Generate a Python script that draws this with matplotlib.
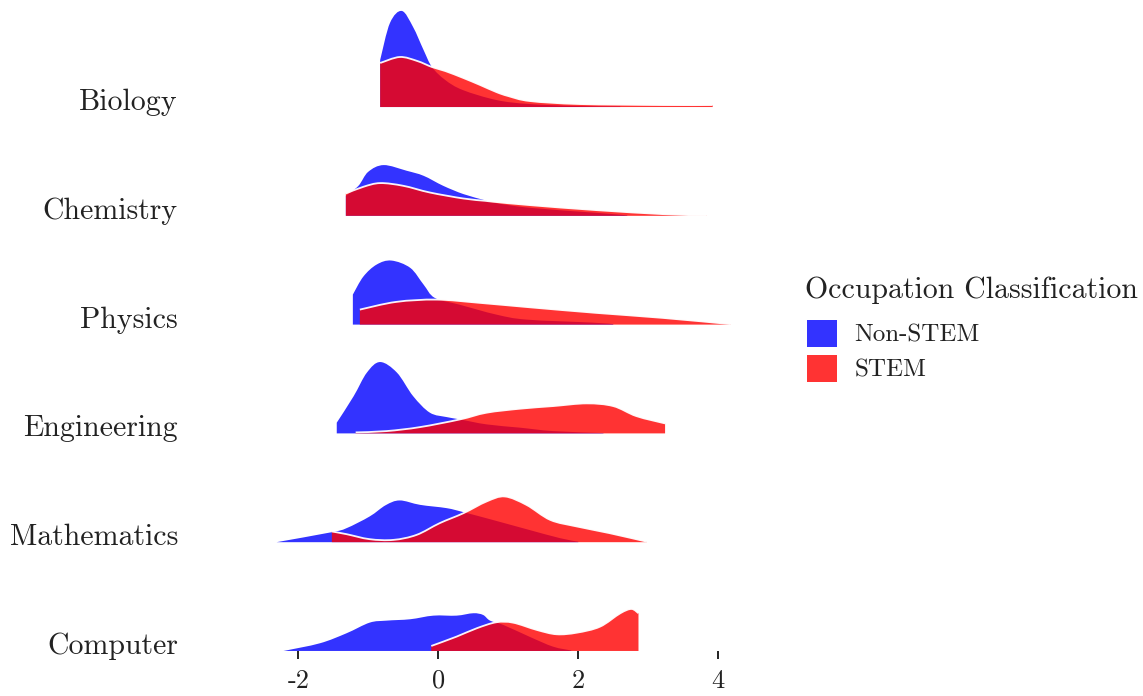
import matplotlib
matplotlib.use('Agg')
import matplotlib.pyplot as plt
from matplotlib.patches import Patch, PathPatch
from matplotlib.path import Path

plt.rcParams['font.family'] = ['cmr10', 'DejaVu Serif']
plt.rcParams['axes.unicode_minus'] = False
plt.rcParams['mathtext.fontset'] = 'cm'

# rows, bottom to top
subjects = ['Computer', 'Mathematics', 'Engineering', 'Physics', 'Chemistry', 'Biology']
group_names = ['Non-STEM', 'STEM']
legend_title = 'Occupation Classification'
x_ticks = [-2, 0, 2, 4]
x_tick_labels = ['-2', '0', '2', '4']

# density curves (x value, height)
nonstem_x = {
    'Biology': [-0.83, -0.69, -0.52, -0.36, -0.21, -0.09, 0.10, 0.35, 0.83, 1.3, 2.0, 2.6],
    'Chemistry': [-1.32, -1.14, -1.0, -0.78, -0.45, -0.21, 0.07, 0.36, 0.67, 0.8, 1.31, 2.26, 2.7],
    'Physics': [-1.22, -1.07, -0.88, -0.67, -0.40, -0.21, -0.05, 0.3, 0.83, 1.26, 2.2, 2.5],
    'Engineering': [-1.45, -1.21, -1.02, -0.83, -0.59, -0.36, -0.12, 0.12, 0.31, 0.69, 1.17, 1.64, 2.36],
    'Mathematics': [-2.31, -1.52, -1.31, -0.98, -0.75, -0.55, -0.26, 0.12, 0.36, 0.79, 1.26, 1.74, 2.0],
    'Computer': [-2.21, -1.69, -1.31, -0.98, -0.74, -0.40, -0.07, 0.26, 0.50, 0.64, 0.74, 0.93, 1.31, 1.64, 1.9],
}
nonstem_h = {
    'Biology': [0.47, 0.84, 0.96, 0.80, 0.57, 0.40, 0.27, 0.17, 0.07, 0.03, 0.01, 0.005],
    'Chemistry': [0.20, 0.30, 0.44, 0.507, 0.45, 0.40, 0.30, 0.217, 0.155, 0.13, 0.08, 0.03, 0.005],
    'Physics': [0.30, 0.48, 0.60, 0.64, 0.567, 0.40, 0.267, 0.20, 0.10, 0.05, 0.02, 0.005],
    'Engineering': [0.107, 0.37, 0.607, 0.713, 0.607, 0.373, 0.207, 0.163, 0.14, 0.09, 0.057, 0.023, 0.003],
    'Mathematics': [0.0, 0.10, 0.14, 0.257, 0.37, 0.417, 0.373, 0.34, 0.30, 0.22, 0.13, 0.04, 0.005],
    'Computer': [0.0, 0.077, 0.177, 0.283, 0.303, 0.317, 0.353, 0.353, 0.377, 0.36, 0.303, 0.26, 0.14, 0.043, 0.005],
}
stem_x = {
    'Biology': [-0.83, -0.55, -0.3, -0.09, 0.1, 0.36, 0.6, 0.83, 1.0, 1.31, 2.02, 3.2, 3.92],
    'Chemistry': [-1.32, -1.07, -0.83, -0.5, -0.12, 0.36, 0.67, 0.8, 1.31, 2.26, 3.21, 3.83],
    'Physics': [-1.12, -0.6, -0.02, 0.6, 1.31, 2.26, 3.21, 4.17],
    'Engineering': [-1.18, -0.74, -0.26, 0.31, 0.69, 1.17, 1.64, 2.12, 2.5, 2.83, 3.24],
    'Mathematics': [-1.52, -1.31, -0.98, -0.64, -0.31, 0.02, 0.36, 0.69, 0.95, 1.26, 1.6, 1.98, 2.45, 2.98],
    'Computer': [-0.10, 0.26, 0.55, 0.83, 1.07, 1.41, 1.69, 1.98, 2.31, 2.60, 2.76, 2.86],
}
stem_h = {
    'Biology': [0.44, 0.50, 0.46, 0.40, 0.36, 0.29, 0.22, 0.15, 0.11, 0.06, 0.03, 0.02, 0.02],
    'Chemistry': [0.223, 0.29, 0.327, 0.30, 0.233, 0.173, 0.15, 0.14, 0.107, 0.057, 0.017, 0.003],
    'Physics': [0.15, 0.227, 0.25, 0.217, 0.173, 0.117, 0.067, 0.005],
    'Engineering': [0.01, 0.023, 0.063, 0.14, 0.207, 0.247, 0.273, 0.30, 0.273, 0.173, 0.10],
    'Mathematics': [0.107, 0.08, 0.03, 0.023, 0.073, 0.19, 0.29, 0.407, 0.457, 0.373, 0.223, 0.157, 0.09, 0.005],
    'Computer': [0.05, 0.143, 0.227, 0.287, 0.283, 0.21, 0.167, 0.183, 0.243, 0.377, 0.42, 0.377],
}

colors = ['#0000FF', '#FF0000']
scale = 0.92  # ridge height relative to row spacing


def top_curve(xs, ys):
    # bezier pieces through the read points (catmull-rom style handles)
    verts = [(xs[0], ys[0])]
    codes = []
    n = len(xs)
    for i in range(n - 1):
        p0 = (xs[max(i - 1, 0)], ys[max(i - 1, 0)])
        p1 = (xs[i], ys[i])
        p2 = (xs[i + 1], ys[i + 1])
        p3 = (xs[min(i + 2, n - 1)], ys[min(i + 2, n - 1)])
        c1 = (p1[0] + (p2[0] - p0[0]) / 6, p1[1] + (p2[1] - p0[1]) / 6)
        c2 = (p2[0] - (p3[0] - p1[0]) / 6, p2[1] - (p3[1] - p1[1]) / 6)
        verts += [c1, c2, p2]
        codes += [Path.CURVE4] * 3
    return verts, codes


def draw_ridge(ax, row, xs, hs, color, outline):
    ys = [row + h * scale for h in hs]
    verts, codes = top_curve(xs, ys)
    fill_verts = [(xs[0], row)] + verts + [(xs[-1], row), (xs[0], row)]
    fill_codes = [Path.MOVETO, Path.LINETO] + codes + [Path.LINETO, Path.CLOSEPOLY]
    ax.add_patch(PathPatch(Path(fill_verts, fill_codes), facecolor=color, alpha=0.8,
                           edgecolor='none', linewidth=0))
    if outline:
        ax.add_patch(PathPatch(Path(verts, [Path.MOVETO] + codes), facecolor='none',
                               edgecolor='white', linewidth=1.3, alpha=0.95))


def main():
    fig = plt.figure(figsize=(11.43, 6.96), dpi=100)
    ax = fig.add_axes([0.2395, 0.0647, 0.4073, 0.930])

    for row, subject in enumerate(subjects):
        draw_ridge(ax, row, nonstem_x[subject], nonstem_h[subject], colors[0], False)
        draw_ridge(ax, row, stem_x[subject], stem_h[subject], colors[1], True)

    ax.set_xlim(-2.35, 4.3)
    ax.set_ylim(0, 5.95)
    for side in ['top', 'right', 'left', 'bottom']:
        ax.spines[side].set_visible(False)

    ax.set_xticks(x_ticks)
    ax.set_xticklabels(x_tick_labels, fontsize=19, color='#222222')
    ax.tick_params(axis='x', length=6, width=1.4, color='#222222', pad=7)

    ax.set_yticks([r + 0.07 for r in range(len(subjects))])
    ax.set_yticklabels(subjects, fontsize=21.5, color='#222222')
    ax.tick_params(axis='y', length=0, pad=69)

    fig.text(805 / 1143, 1 - 290 / 696, legend_title, fontsize=21.5, color='#222222',
             ha='left', va='center')
    handles = [Patch(facecolor=c, alpha=0.8, edgecolor='none') for c in colors]
    fig.legend(handles, group_names, loc='upper left', bbox_to_anchor=(807 / 1143, 1 - 320 / 696),
               frameon=False, fontsize=18, labelcolor='#222222',
               handlelength=1.2, handleheight=1.3, handletextpad=0.7,
               labelspacing=0.3, borderpad=0, borderaxespad=0)

    fig.savefig('out.png', dpi=100)


if __name__ == "__main__":
    main()
